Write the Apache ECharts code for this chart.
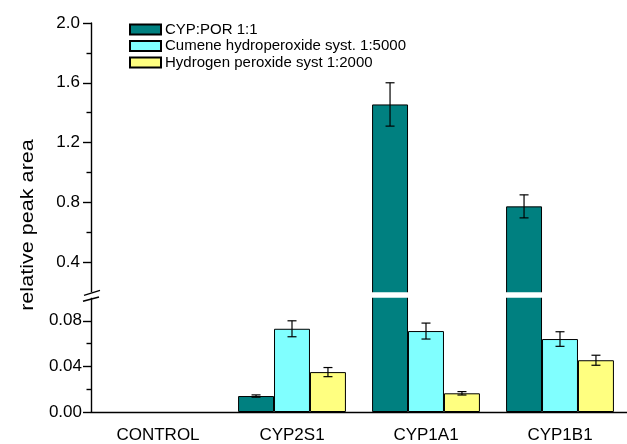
<!DOCTYPE html>
<html>
<head>
<meta charset="utf-8">
<script src="https://cdn.jsdelivr.net/npm/echarts@6/dist/echarts.min.js"></script>
<style>
html,body{margin:0;padding:0;background:#fff;}
#chart{width:627px;height:444px;}
</style>
</head>
<body>
<div id="chart"></div>
<script>
const categories = ['CONTROL', 'CYP2S1', 'CYP1A1', 'CYP1B1'];
const seriesNames = ['CYP:POR 1:1', 'Cumene hydroperoxide syst. 1:5000', 'Hydrogen peroxide syst 1:2000'];
const porValues = [0, 0.014, 1.455, 0.773];
const porErrors = [0, 0.001, 0.145, 0.077];
const cumeneValues = [0, 0.073, 0.071, 0.064];
const cumeneErrors = [0, 0.007, 0.007, 0.0064];
const h2o2Values = [0, 0.035, 0.0164, 0.0454];
const h2o2Errors = [0, 0.004, 0.0015, 0.0044];
const lowerTicks = [0, 0.04, 0.08];
const lowerMinorTicks = [0.02, 0.06];
const upperTicks = [0.4, 0.8, 1.2, 1.6, 2.0];
const upperMinorTicks = [0.6, 1.0, 1.4, 1.8];
const lowerRange = [0, 0.1];
const upperRange = [0.2, 2.0];

const colors = ['#008080', '#80FFFF', '#FFFF80'];
const allValues = [porValues, cumeneValues, h2o2Values];
const allErrors = [porErrors, cumeneErrors, h2o2Errors];
const catGap = 0.195;
const FONT = 'Liberation Sans, Arial, sans-serif';

// layout of the two stacked panels (pixels)
const upperTop = 23, upperBottomNominal = 292, lowerTopNominal = 298, lowerBottom = 412;
const overlap = 2; // panels are extended under the white break strip so no clipped edge shows
const upperH = upperBottomNominal - upperTop;
const lowerH = lowerBottom - lowerTopNominal;
const upperMinExt = upperRange[1] - (upperRange[1] - upperRange[0]) * (upperH + overlap) / upperH;
const lowerMaxExt = lowerRange[0] + (lowerRange[1] - lowerRange[0]) * (lowerH + overlap) / lowerH;

const chart = echarts.init(document.getElementById('chart'), null, {renderer: 'canvas'});

function errItem(params, api) {
  const ci = api.value(0), v = api.value(1), e = api.value(2), si = api.value(3);
  const base = api.coord([ci, v]);
  const band = api.size([1, 0])[0];
  const barW = band * (1 - catGap) / 3;
  const x = base[0] + (si - 1) * barW;
  const yt = api.coord([ci, v + e])[1];
  const yb = api.coord([ci, v - e])[1];
  const cap = 4.5;
  const st = {stroke: '#000', lineWidth: 1.2};
  return {
    type: 'group',
    children: [
      {type: 'line', shape: {x1: x, y1: yt, x2: x, y2: yb}, style: st},
      {type: 'line', shape: {x1: x - cap, y1: yt, x2: x + cap, y2: yt}, style: st},
      {type: 'line', shape: {x1: x - cap, y1: yb, x2: x + cap, y2: yb}, style: st}
    ]
  };
}

const lowerErr = [], upperErr = [];
allValues.forEach((vals, si) => {
  vals.forEach((v, ci) => {
    if (v <= 0) return;
    const item = [ci, v, allErrors[si][ci], si];
    if (v < lowerRange[1]) lowerErr.push(item);
    else if (v > upperRange[0]) upperErr.push(item);
  });
});

const series = [];
allValues.forEach((vals, si) => {
  series.push({
    name: seriesNames[si], type: 'bar', xAxisIndex: 0, yAxisIndex: 0,
    data: vals.map(v => v > 0 ? v : '-'), barGap: '0%', barCategoryGap: (catGap * 100) + '%',
    itemStyle: {color: colors[si], borderColor: '#000', borderWidth: 1},
    clip: true, silent: true
  });
});
allValues.forEach((vals, si) => {
  series.push({
    name: seriesNames[si], type: 'bar', xAxisIndex: 2, yAxisIndex: 2,
    data: vals.map(v => v > upperRange[0] ? v : '-'), barGap: '0%', barCategoryGap: (catGap * 100) + '%',
    itemStyle: {color: colors[si], borderColor: '#000', borderWidth: 1},
    clip: true, silent: true
  });
});
series.push({type: 'custom', xAxisIndex: 0, yAxisIndex: 0, renderItem: errItem, data: lowerErr, z: 5, silent: true});
series.push({type: 'custom', xAxisIndex: 2, yAxisIndex: 2, renderItem: errItem, data: upperErr, z: 5, silent: true});

const axisLineStyle = {color: '#000', width: 1.4};

const option = {
  animation: false,
  backgroundColor: '#fff',
  textStyle: {fontFamily: FONT},
  legend: {
    orient: 'vertical', left: 124, top: 17,
    itemWidth: 31, itemHeight: 10, itemGap: 1.5, icon: 'rect',
    data: seriesNames,
    textStyle: {fontSize: 15, color: '#000', fontFamily: FONT, lineHeight: 15, padding: [0, 0, 0, -1]},
    selectedMode: false
  },
  grid: [
    {left: 91, right: 0, top: lowerTopNominal - overlap, height: lowerH + overlap},
    {left: 91, right: 0, top: upperTop, height: upperH + overlap}
  ],
  xAxis: [
    {type: 'category', gridIndex: 0, data: categories,
     axisLine: {lineStyle: axisLineStyle},
     axisTick: {alignWithLabel: true, length: 7, lineStyle: axisLineStyle},
     axisLabel: {fontSize: 17, color: '#000', margin: 15, fontFamily: FONT}},
    {type: 'category', gridIndex: 0, data: categories, position: 'bottom',
     axisLine: {show: false},
     axisTick: {length: 4, lineStyle: axisLineStyle},
     axisLabel: {show: false}},
    {type: 'category', gridIndex: 1, data: categories, show: false}
  ],
  yAxis: [
    {type: 'value', gridIndex: 0, min: lowerRange[0], max: lowerMaxExt,
     axisLine: {show: true, lineStyle: axisLineStyle},
     axisTick: {show: true, length: 8, lineStyle: axisLineStyle, customValues: lowerTicks},
     axisLabel: {fontSize: 17, color: '#000', margin: 9, customValues: lowerTicks, formatter: v => v.toFixed(2), fontFamily: FONT},
     splitLine: {show: false}},
    {type: 'value', gridIndex: 0, min: lowerRange[0], max: lowerMaxExt, position: 'left',
     axisLine: {show: false},
     axisTick: {show: true, length: 4.5, lineStyle: axisLineStyle, customValues: lowerMinorTicks},
     axisLabel: {show: false}, splitLine: {show: false}},
    {type: 'value', gridIndex: 1, min: upperMinExt, max: upperRange[1],
     axisLine: {show: true, lineStyle: axisLineStyle},
     axisTick: {show: true, length: 8, lineStyle: axisLineStyle, customValues: upperTicks},
     axisLabel: {fontSize: 17, color: '#000', margin: 11, customValues: upperTicks, formatter: v => v.toFixed(1), fontFamily: FONT},
     splitLine: {show: false}},
    {type: 'value', gridIndex: 1, min: upperMinExt, max: upperRange[1], position: 'left',
     axisLine: {show: false},
     axisTick: {show: true, length: 4.5, lineStyle: axisLineStyle, customValues: upperMinorTicks},
     axisLabel: {show: false}, splitLine: {show: false}}
  ],
  graphic: [
    {type: 'text', x: 28, y: 225, rotation: Math.PI / 2, scaleX: 1.2,
     style: {text: 'relative peak area', fontSize: 18, fontFamily: FONT, fill: '#000', align: 'center', verticalAlign: 'middle'}},
    {type: 'rect', z: 100, shape: {x: 88, y: upperBottomNominal + 0.3, width: 540, height: lowerTopNominal - upperBottomNominal - 0.6}, style: {fill: '#fff'}},
    {type: 'line', z: 101, shape: {x1: 84, y1: 295.3, x2: 100, y2: 290.3}, style: {stroke: '#000', lineWidth: 1.4}},
    {type: 'line', z: 101, shape: {x1: 83, y1: 301.3, x2: 99, y2: 297}, style: {stroke: '#000', lineWidth: 1.4}}
  ],
  series: series
};
chart.setOption(option);
</script>
</body>
</html>
